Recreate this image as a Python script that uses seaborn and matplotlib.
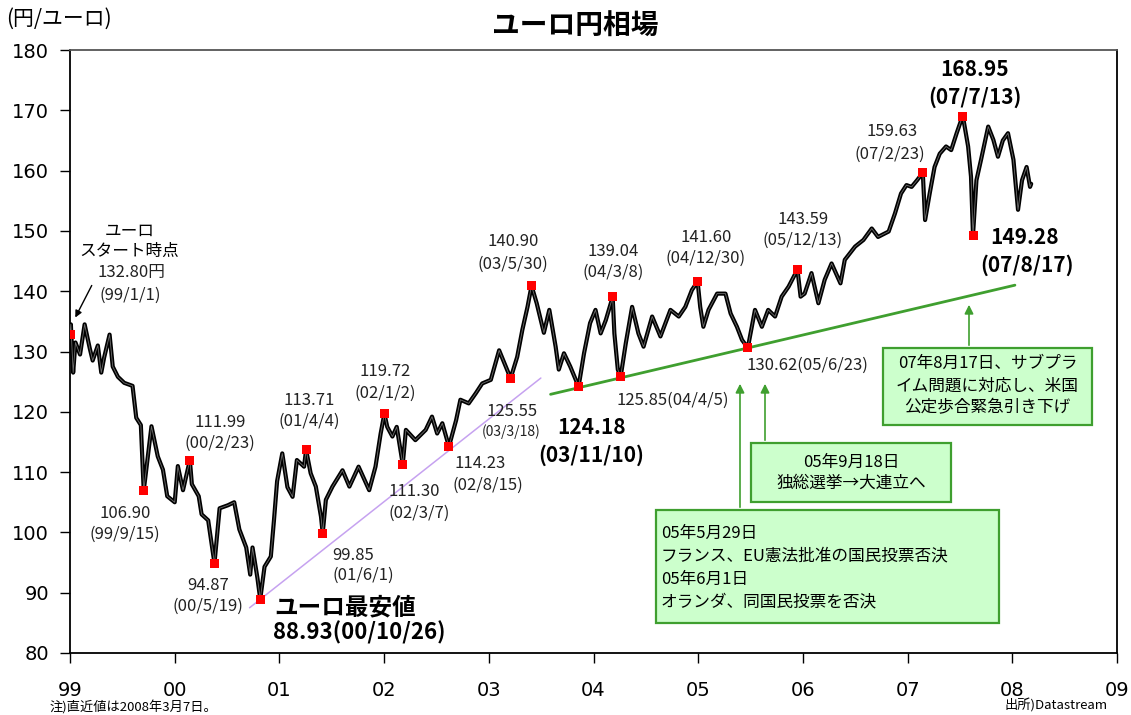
import numpy as np
import pandas as pd
import matplotlib
matplotlib.use("Agg")
import matplotlib.pyplot as plt
from matplotlib.patches import Rectangle
import seaborn as sns

# ---- EUR/JPY spot (yen per euro), 1999-01-01 .. 2008-03-07 ----
obs_dates = [
    "1999-01-01", "1999-01-04", "1999-01-12", "1999-01-20", "1999-02-05", "1999-02-21",
    "1999-03-11", "1999-03-21", "1999-04-08", "1999-04-20", "1999-04-30", "1999-05-19",
    "1999-05-30", "1999-06-17", "1999-07-09", "1999-08-07", "1999-08-20", "1999-09-05",
    "1999-09-15", "1999-10-12", "1999-11-03", "1999-11-21", "1999-12-06", "2000-01-01",
    "2000-01-12", "2000-01-30", "2000-02-23", "2000-03-01", "2000-03-25", "2000-04-04",
    "2000-04-27", "2000-05-19", "2000-06-06", "2000-07-05", "2000-07-27", "2000-08-14",
    "2000-09-07", "2000-09-21", "2000-09-29", "2000-10-16", "2000-10-26", "2000-11-10",
    "2000-12-02", "2000-12-13", "2000-12-24", "2001-01-11", "2001-01-29", "2001-02-16",
    "2001-03-03", "2001-03-28", "2001-04-04", "2001-04-20", "2001-05-08", "2001-05-26",
    "2001-06-01", "2001-06-12", "2001-07-05", "2001-08-09", "2001-09-02", "2001-10-04",
    "2001-11-10", "2001-12-02", "2001-12-20", "2002-01-02", "2002-01-12", "2002-01-30",
    "2002-02-14", "2002-03-07", "2002-03-18", "2002-04-20", "2002-05-26", "2002-06-17",
    "2002-07-05", "2002-07-23", "2002-08-15", "2002-09-09", "2002-09-24", "2002-10-23",
    "2002-11-17", "2002-12-09", "2003-01-08", "2003-02-06", "2003-02-24", "2003-03-18",
    "2003-04-10", "2003-04-28", "2003-05-16", "2003-05-30", "2003-06-17", "2003-07-12",
    "2003-07-31", "2003-08-22", "2003-09-02", "2003-09-20", "2003-10-12", "2003-11-10",
    "2003-11-29", "2003-12-20", "2004-01-08", "2004-01-26", "2004-02-13", "2004-03-08",
    "2004-03-14", "2004-03-26", "2004-04-05", "2004-04-23", "2004-05-15", "2004-06-06",
    "2004-06-24", "2004-07-24", "2004-08-22", "2004-09-26", "2004-10-25", "2004-11-17",
    "2004-12-10", "2004-12-30", "2005-01-08", "2005-01-19", "2005-02-06", "2005-03-08",
    "2005-04-06", "2005-04-24", "2005-05-16", "2005-06-03", "2005-06-23", "2005-07-18",
    "2005-08-11", "2005-09-02", "2005-09-26", "2005-10-19", "2005-11-12", "2005-12-13",
    "2005-12-24", "2006-01-07", "2006-01-31", "2006-02-24", "2006-03-18", "2006-04-11",
    "2006-05-12", "2006-05-27", "2006-07-02", "2006-07-31", "2006-08-29", "2006-09-20",
    "2006-10-27", "2006-11-18", "2006-12-09", "2006-12-28", "2007-01-15", "2007-02-03",
    "2007-02-23", "2007-03-03", "2007-03-19", "2007-04-05", "2007-04-23", "2007-05-15",
    "2007-06-02", "2007-06-21", "2007-07-07", "2007-07-13", "2007-07-31", "2007-08-10",
    "2007-08-17", "2007-08-29", "2007-09-14", "2007-10-09", "2007-10-27", "2007-11-12",
    "2007-11-29", "2007-12-17", "2008-01-05", "2008-01-21", "2008-02-04", "2008-02-20",
    "2008-03-03", "2008-03-07",
]
obs_rates = [
    132.80, 134.5, 126.5, 131.5, 129.5, 134.5,
    130.5, 128.5, 131.0, 126.5, 129.0, 132.8,
    127.5, 125.8, 124.8, 124.3, 119.0, 117.8,
    106.90, 117.6, 112.6, 110.4, 106.0, 105.0,
    111.0, 107.0, 111.99, 108.0, 106.0, 103.0,
    102.0, 94.87, 104.0, 104.5, 105.0, 100.5,
    97.5, 93.0, 97.5, 92.5, 88.93, 94.3,
    96.0, 102.0, 108.5, 113.1, 107.5, 105.9,
    112.0, 110.9, 113.71, 109.8, 107.6, 102.6,
    99.85, 105.4, 107.6, 110.3, 107.6, 110.9,
    107.0, 110.9, 116.4, 119.72, 117.5, 115.9,
    117.5, 111.30, 117.0, 115.3, 117.0, 119.2,
    116.4, 118.1, 114.23, 118.6, 122.0, 121.4,
    123.1, 124.7, 125.3, 130.2, 128.1, 125.55,
    129.1, 133.6, 137.4, 140.90, 138.0, 133.1,
    136.9, 130.8, 127.0, 129.7, 127.5, 124.18,
    129.7, 134.7, 136.9, 133.0, 135.2, 139.04,
    133.0, 127.0, 125.85, 131.4, 137.4, 133.0,
    130.8, 135.8, 132.5, 136.9, 135.8, 137.4,
    140.2, 141.60, 137.4, 134.1, 136.9, 139.6,
    139.6, 136.3, 134.1, 131.9, 130.62, 136.9,
    134.1, 136.9, 135.8, 139.1, 140.75, 143.59,
    139.1, 139.6, 143.0, 138.0, 141.9, 144.6,
    141.3, 145.2, 147.4, 148.5, 150.4, 149.0,
    149.9, 152.9, 156.2, 157.6, 157.3, 158.4,
    159.63, 151.8, 156.2, 160.6, 162.8, 164.0,
    163.4, 166.2, 168.4, 168.95, 164.0, 159.0,
    149.28, 158.4, 161.8, 167.3, 165.1, 162.3,
    165.0, 166.2, 161.8, 153.5, 158.4, 160.6,
    157.3, 157.8,
]

# ---- highlighted highs and lows ----
mark_dates = ["1999-01-01", "1999-09-15", "2000-02-23", "2000-05-19", "2000-10-26",
              "2001-04-04", "2001-06-01", "2002-01-02", "2002-03-07", "2002-08-15",
              "2003-03-18", "2003-05-30", "2003-11-10", "2004-03-08", "2004-04-05",
              "2004-12-30", "2005-06-23", "2005-12-13", "2007-02-23", "2007-07-13",
              "2007-08-17"]
mark_rates = [132.80, 106.90, 111.99, 94.87, 88.93,
              113.71, 99.85, 119.72, 111.30, 114.23,
              125.55, 140.90, 124.18, 139.04, 125.85,
              141.60, 130.62, 143.59, 159.63, 168.95,
              149.28]
mark_tags = ["99/1/1", "99/9/15", "00/2/23", "00/5/19", "00/10/26",
             "01/4/4", "01/6/1", "02/1/2", "02/3/7", "02/8/15",
             "03/3/18", "03/5/30", "03/11/10", "04/3/8", "04/4/5",
             "04/12/30", "05/6/23", "05/12/13", "07/2/23", "07/7/13",
             "07/8/17"]

year_ticks = list(range(1999, 2010))
year_labels = ["99", "00", "01", "02", "03", "04", "05", "06", "07", "08", "09"]
rate_ticks = [80, 90, 100, 110, 120, 130, 140, 150, 160, 170, 180]

# support lines (start/end as year, rate)
support_2000 = ([2000.715, 2003.497], [87.5, 125.6])
support_2003 = ([2003.59, 2008.025], [122.9, 141.0])

events = [
    ["05年5月29日", "フランス、EU憲法批准の国民投票否決", "05年6月1日", "オランダ、同国民投票を否決"],
    ["05年9月18日", "独総選挙→大連立へ"],
    ["07年8月17日、サブプラ", "イム問題に対応し、米国", "公定歩合緊急引き下げ"],
]


def to_year(dates):
    d = pd.to_datetime(pd.Series(dates))
    ndays = np.where(d.dt.is_leap_year, 366.0, 365.0)
    return (d.dt.year + (d.dt.dayofyear - 1) / ndays).to_numpy()


series = pd.DataFrame({"year": to_year(obs_dates), "rate": obs_rates})
marks = pd.DataFrame({"year": to_year(mark_dates), "rate": mark_rates, "tag": mark_tags})

sns.set_theme(style="ticks")
plt.rcParams["font.family"] = ["Noto Sans CJK JP", "DejaVu Sans"]

W, H = 1131, 715
fig = plt.figure(figsize=(W / 100, H / 100), dpi=100)
ax = fig.add_axes([70 / W, 62 / H, 1047 / W, 603 / H])


def px(x, y):
    return x / W, 1 - y / H


GREEN = "#3f9f2f"
BOX_FILL = "#ccffcc"
INK = "#222222"

# price line: heavy black band with a grey core, like a dense bar chart
sns.lineplot(data=series, x="year", y="rate", ax=ax, color="black", lw=3.0,
             estimator=None, sort=False, zorder=3)
sns.lineplot(data=series, x="year", y="rate", ax=ax, color="#6e6e6e", lw=0.6,
             estimator=None, sort=False, zorder=3)
# support lines
ax.plot(*support_2000, color="#c6a2f0", lw=1.1, zorder=2)
ax.plot(*support_2003, color=GREEN, lw=2.0, zorder=2)
# highlighted points
sns.scatterplot(data=marks, x="year", y="rate", ax=ax, marker="s", s=42,
                color="#ff0000", edgecolor="none", zorder=5, legend=False)

ax.set_xlim(1999, 2009)
ax.set_ylim(80, 180)
ax.set_xticks(year_ticks)
ax.set_xticklabels(year_labels)
ax.set_yticks(rate_ticks)
ax.set_xlabel("")
ax.set_ylabel("")
for lab in ax.get_xticklabels() + ax.get_yticklabels():
    lab.set_fontfamily("DejaVu Sans")
    lab.set_fontsize(14)
    lab.set_color("black")
ax.tick_params(axis="x", direction="out", length=7, width=1, pad=13, colors="black")
ax.tick_params(axis="y", direction="out", length=7, width=1, pad=8, colors="black")
for side in ["left", "bottom", "right"]:
    ax.spines[side].set_color("black")
    ax.spines[side].set_linewidth(1.3)
ax.spines["top"].set_color("#555555")
ax.spines["top"].set_linewidth(1.3)

# ---- point labels ----
val = dict(zip(mark_tags, mark_rates))


def label(text, x, y, size=12, weight="normal", ha="center", color=INK):
    fig.text(*px(x, y), text, ha=ha, va="center", fontsize=size,
             fontweight=weight, color=color)


def stacked(tag, x, y, dx=0, size=12, date_size=None, weight="normal", ha="center", gap=21):
    color = "black" if weight == "bold" else INK
    label(f"{val[tag]:.2f}", x, y, size=size, weight=weight, ha=ha, color=color)
    label(f"({tag})", x + dx, y + gap, size=date_size or size, weight=weight, ha=ha, color=color)


label("ユーロ", 130, 231, size=12, color="black")
label("スタート時点", 129, 251, size=12, color="black")
label(f"{val['99/1/1']:.2f}円", 131, 273)
label("(99/1/1)", 130, 295)
ax.annotate("", xy=px(74, 320), xytext=px(93, 283), xycoords="figure fraction",
            textcoords="figure fraction",
            arrowprops=dict(arrowstyle="-|>", color="black", lw=1.0, mutation_scale=10))

stacked("99/9/15", 125, 513)
stacked("00/2/23", 220, 422)
stacked("00/5/19", 208, 585)
stacked("01/4/4", 309, 400)
stacked("01/6/1", 332, 555, ha="left", gap=20)
stacked("02/1/2", 385, 372)
stacked("02/3/7", 388, 492, ha="left")
stacked("02/8/15", 454, 463, dx=-2, ha="left", gap=22)
stacked("03/3/18", 512, 412, dx=-1, date_size=10, gap=20)
stacked("03/5/30", 513, 242, gap=22)
stacked("04/3/8", 613, 252, gap=20)
stacked("04/12/30", 706, 237, gap=21)
stacked("05/12/13", 803, 220, gap=20)
stacked("07/2/23", 892, 132, dx=-2, gap=22)
stacked("03/11/10", 592, 428, dx=-1, size=15, weight="bold", gap=27)
stacked("07/7/13", 975, 70, size=15, weight="bold", gap=27)
stacked("07/8/17", 1025, 238, dx=2, size=15, weight="bold", gap=27)
label(f"{val['04/4/5']:.2f}(04/4/5)", 617, 400, ha="left")
label(f"{val['05/6/23']:.2f}(05/6/23)", 747, 365, ha="left")
label("ユーロ最安値", 345, 607, size=17, weight="bold", color="black")
label(f"{val['00/10/26']:.2f}(00/10/26)", 359, 633, size=16, weight="bold", color="black")

# ---- event boxes with arrows to the support line ----
box_specs = [  # x0, y0, x1, y1 (pixels), text alignment
    (656, 510, 999, 623, "left"),
    (751, 443, 951, 502, "center"),
    (883, 348, 1092, 425, "center"),
]
line_y = [[533, 556, 579, 602], [462, 483], [363, 386, 408]]
for (x0, y0, x1, y1, ha), lines, ys in zip(box_specs, events, line_y):
    fig.add_artist(Rectangle(px(x0, y1), (x1 - x0) / W, (y1 - y0) / H,
                             transform=fig.transFigure, facecolor=BOX_FILL,
                             edgecolor=GREEN, lw=1.6, zorder=6))
    tx = x0 + 5 if ha == "left" else (x0 + x1) / 2
    for s, yy in zip(lines, ys):
        t = fig.text(*px(tx, yy), s, ha=ha, va="center", fontsize=12, color="black")
        t.set_zorder(7)

for x, y_base, y_tip in [(740, 510, 381), (765, 443, 381), (969, 348, 302)]:
    ax.annotate("", xy=px(x, y_tip), xytext=px(x, y_base), xycoords="figure fraction",
                textcoords="figure fraction",
                arrowprops=dict(arrowstyle="-|>", color=GREEN, lw=1.2, mutation_scale=13))

# ---- titles and notes ----
fig.text(*px(575, 27), "ユーロ円相場", ha="center", va="center", fontsize=20,
         fontweight="bold", color="black")
fig.text(*px(6, 19), "(円/ユーロ)", ha="left", va="center", fontsize=15, color="black")
fig.text(*px(50, 707), "注)直近値は2008年3月7日。", ha="left", va="center",
         fontsize=9.5, color="black")
fig.text(*px(1108, 706), "出所)Datastream", ha="right", va="center",
         fontsize=9.5, color="black")

fig.savefig("out.png", dpi=100, facecolor="white")
